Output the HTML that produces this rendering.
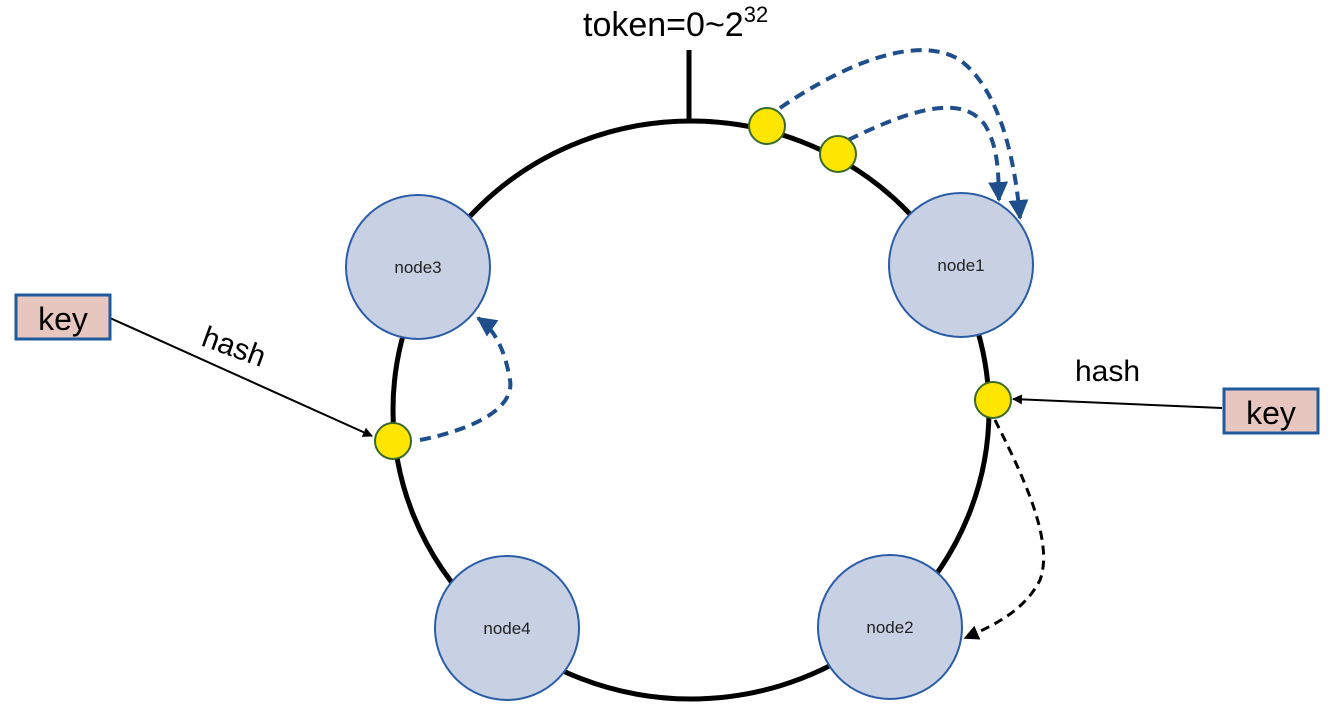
<!DOCTYPE html>
<html><head><meta charset="utf-8"><style>
html,body{margin:0;padding:0;background:#fff;width:1342px;height:721px;overflow:hidden}
svg{display:block}
text{font-family:"Liberation Sans",sans-serif}
</style></head><body>
<svg width="1342" height="721" viewBox="0 0 1342 721">
<defs>
<marker id="ab" viewBox="0 0 10 10" refX="9" refY="5" markerWidth="5" markerHeight="5" orient="auto"><path d="M0,0L10,5L0,10z" fill="#1f4e8c"/></marker>
<marker id="ak" viewBox="0 0 10 10" refX="9" refY="5" markerWidth="5" markerHeight="5" orient="auto"><path d="M0,0L10,5L0,10z" fill="#000"/></marker>
</defs>
<ellipse cx="691" cy="410" rx="298" ry="289" fill="none" stroke="#000" stroke-width="5"/>
<line x1="689" y1="50" x2="689" y2="121" stroke="#000" stroke-width="5"/>
<text x="583" y="36" font-size="34" fill="#000">token=0~2<tspan font-size="22" dy="-14">32</tspan></text>
<g fill="#c8d0e4" stroke="#2a5ca8" stroke-width="2">
<circle cx="418" cy="267" r="72"/><circle cx="961" cy="265" r="72"/>
<circle cx="507" cy="628" r="72"/><circle cx="890" cy="627" r="72"/>
</g>
<g font-size="17" text-anchor="middle" fill="#222">
<text x="418" y="273">node3</text><text x="961" y="271">node1</text>
<text x="507" y="634">node4</text><text x="890" y="633">node2</text>
</g>
<g fill="none" stroke="#1f4e8c" stroke-width="4" stroke-dasharray="11,7">
<path d="M780,108 C850,60 920,35 960,60 C1000,90 1015,160 1020,218" marker-end="url(#ab)"/>
<path d="M848,140 C900,115 960,90 985,125 C1000,150 998,180 999,200" marker-end="url(#ab)"/>
<path d="M420,440 C470,430 515,410 510,380 C505,350 495,330 478,318" marker-end="url(#ab)"/>
</g>
<path d="M995,420 C1020,470 1055,540 1040,580 C1025,610 995,625 965,638" fill="none" stroke="#000" stroke-width="3" stroke-dasharray="9,6" marker-end="url(#ak)"/>
<g fill="#ffe600" stroke="#3a6a2a" stroke-width="2">
<circle cx="767" cy="126" r="18"/><circle cx="838" cy="154" r="18"/>
<circle cx="993" cy="400" r="18"/><circle cx="393" cy="441" r="18"/>
</g>
<line x1="110" y1="318" x2="372" y2="436" stroke="#000" stroke-width="2" marker-end="url(#ak)"/>
<line x1="1222" y1="408" x2="1013" y2="399" stroke="#000" stroke-width="2" marker-end="url(#ak)"/>
<rect x="16" y="295" width="94" height="44" fill="#e8c6c0" stroke="#1f5a9c" stroke-width="3"/>
<text x="63" y="330" font-size="32" text-anchor="middle" fill="#000">key</text>
<rect x="1224" y="389" width="94" height="44" fill="#e8c6c0" stroke="#1f5a9c" stroke-width="3"/>
<text x="1271" y="424" font-size="32" text-anchor="middle" fill="#000">key</text>
<text x="200" y="345" font-size="30" fill="#000" transform="rotate(20 200 345)">hash</text>
<text x="1075" y="381" font-size="30" fill="#000">hash</text>
</svg>
</body></html>
